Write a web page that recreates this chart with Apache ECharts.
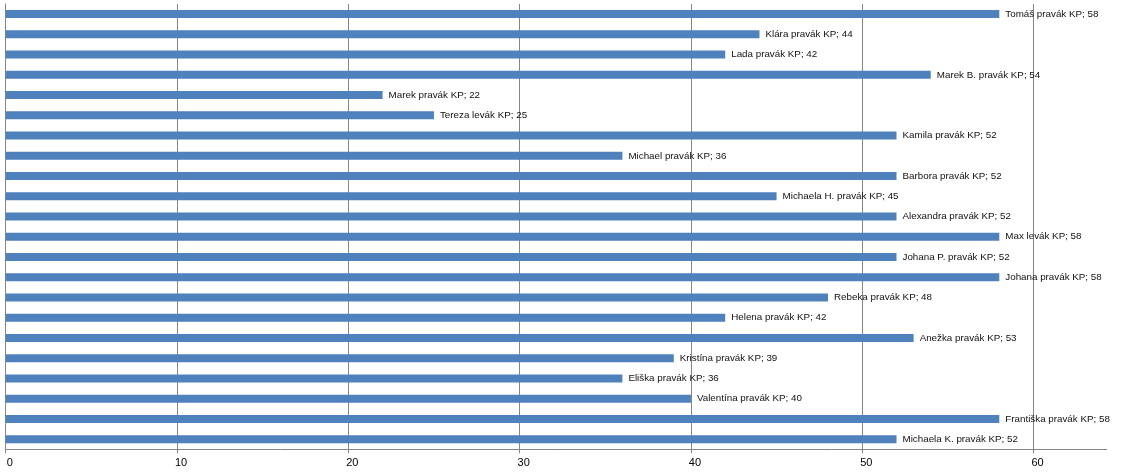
<!DOCTYPE html>
<html>
<head>
<meta charset="utf-8">
<script src="https://cdn.jsdelivr.net/npm/echarts@6/dist/echarts.min.js"></script>
<style>html,body{margin:0;padding:0;background:#fff}#c{width:1121px;height:472px}</style>
</head>
<body>
<div id="c"></div>
<script>
const categories = ["Tomáš pravák KP","Klára pravák KP","Lada pravák KP","Marek B. pravák KP","Marek pravák KP","Tereza levák KP","Kamila pravák KP","Michael pravák KP","Barbora pravák KP","Michaela H. pravák KP","Alexandra pravák KP","Max levák KP","Johana P. pravák KP","Johana pravák KP","Rebeka pravák KP","Helena pravák KP","Anežka pravák KP","Kristína pravák KP","Eliška pravák KP","Valentína pravák KP","Františka pravák KP","Michaela K. pravák KP"];
const values = [58,44,42,54,22,25,52,36,52,45,52,58,52,58,48,42,53,39,36,40,58,52];
const xTicks = [0,10,20,30,40,50,60];

const gridColors = xTicks.map(()=>'#868686').concat(['rgba(0,0,0,0)']);

const chart = echarts.init(document.getElementById('c'), null, {renderer:'canvas'});
chart.setOption({
  animation:false,
  grid:{left:5.7,right:14.3,top:4,bottom:22.7,containLabel:false},
  xAxis:{type:'value',min:0,max:64.27,interval:10,
    axisLine:{show:true,lineStyle:{color:'#868686',width:1}},
    axisTick:{show:true,length:4,lineStyle:{color:'#868686'},customValues:xTicks},
    splitLine:{show:true,lineStyle:{color:gridColors,width:1}},
    axisLabel:{color:'#000',fontFamily:'Liberation Sans',fontSize:11,margin:8,padding:[0,0,0,8],
      customValues:xTicks}
  },
  yAxis:{type:'category',inverse:true,data:categories,
    axisLine:{show:true,lineStyle:{color:'#868686'}},
    axisTick:{show:false},axisLabel:{show:false},splitLine:{show:false}
  },
  series:[{type:'bar',data:values,barWidth:8,itemStyle:{color:'#4f81bd'},
    label:{show:true,position:'right',distance:6,color:'#111',fontFamily:'Liberation Sans',fontSize:9.8,
      formatter:p=>p.name+'; '+p.value}
  }]
});
</script>
</body>
</html>
